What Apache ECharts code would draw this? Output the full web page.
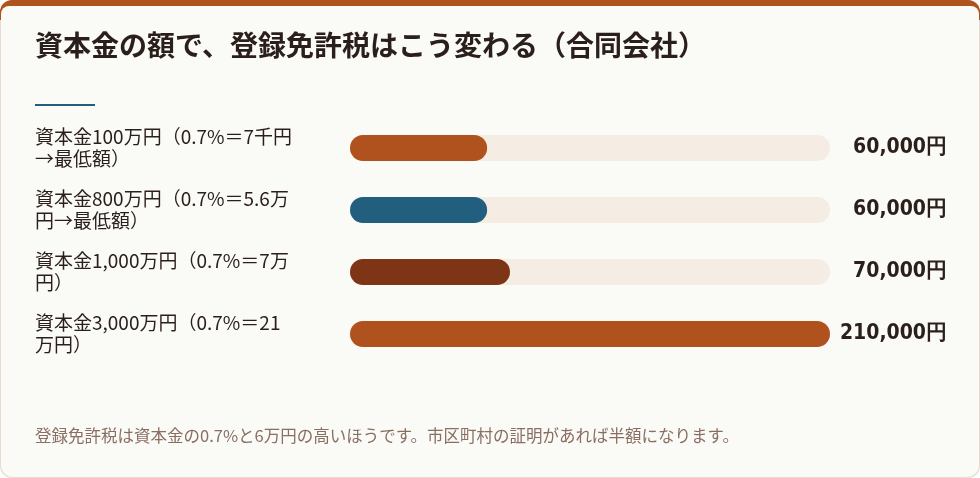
<!DOCTYPE html>
<html><head><meta charset="utf-8">
<script src="https://cdn.jsdelivr.net/npm/echarts@6/dist/echarts.min.js"></script>
<style>html,body{margin:0;padding:0;background:#fff}#c{width:980px;height:478px}</style>
</head><body><div id="c"></div>
<script>
var categories = ['資本金100万円（0.7%＝7千円\n→最低額）', '資本金800万円（0.7%＝5.6万\n円→最低額）', '資本金1,000万円（0.7%＝7万\n円）', '資本金3,000万円（0.7%＝21\n万円）'];
var values = [60000, 60000, 70000, 210000];
var valueLabels = ['60,000円', '60,000円', '70,000円', '210,000円'];
var colors = ['#b0521d', '#225f7e', '#7e3515', '#b0521d'];

var font = '"Noto Sans CJK JP", "Noto Sans", sans-serif';
var chart = echarts.init(document.getElementById('c'));
chart.setOption({
  animation: false,
  graphic: [
    { type: 'rect', shape: { x: 0, y: 0, width: 980, height: 478, r: 12 }, style: { fill: '#eadbd0' }, z: -11 },
    { type: 'rect', shape: { x: 0, y: 0, width: 980, height: 20, r: [12, 12, 0, 0] }, style: { fill: '#b0521d' }, z: -10 },
    { type: 'rect', shape: { x: 1, y: 6, width: 978, height: 471, r: [8, 8, 12, 12] }, style: { fill: '#fafaf7' }, z: -9 },
    { type: 'text', left: 35, top: 31, style: { text: '資本金の額で、登録免許税はこう変わる（合同会社）', font: 'bold 28px ' + font, fill: '#2a1f1a' } },
    { type: 'rect', shape: { x: 35, y: 104, width: 60, height: 2 }, style: { fill: '#225f7e' } },
    { type: 'text', left: 35, top: 427, style: { text: '登録免許税は資本金の0.7%と6万円の高いほうです。市区町村の証明があれば半額になります。', font: '16.5px ' + font, fill: '#8a6e62' } }
  ],
  grid: { left: 350, right: 150, top: 117, height: 248 },
  xAxis: { type: 'value', max: 210000, show: false },
  yAxis: [
    { type: 'category', inverse: true, data: categories, axisLine: { show: false }, axisTick: { show: false },
      axisLabel: { align: 'left', margin: 315, fontFamily: font, fontSize: 19, lineHeight: 22, color: '#2a1f1a' } },
    { type: 'category', inverse: true, position: 'right', data: valueLabels, axisLine: { show: false }, axisTick: { show: false },
      axisLabel: { align: 'right', margin: 117, fontFamily: '"Liberation Sans Narrow", "DejaVu Sans Condensed", sans-serif', fontSize: 21, fontWeight: 'bold', color: '#2a1f1a' } }
  ],
  series: [{
    type: 'bar', barWidth: 26,
    data: values.map(function (v, i) { return { value: v, itemStyle: { color: colors[i] } }; }),
    itemStyle: { borderRadius: 13 },
    showBackground: true,
    backgroundStyle: { color: '#f5ece4', borderRadius: 13 }
  }]
});
</script></body></html>
